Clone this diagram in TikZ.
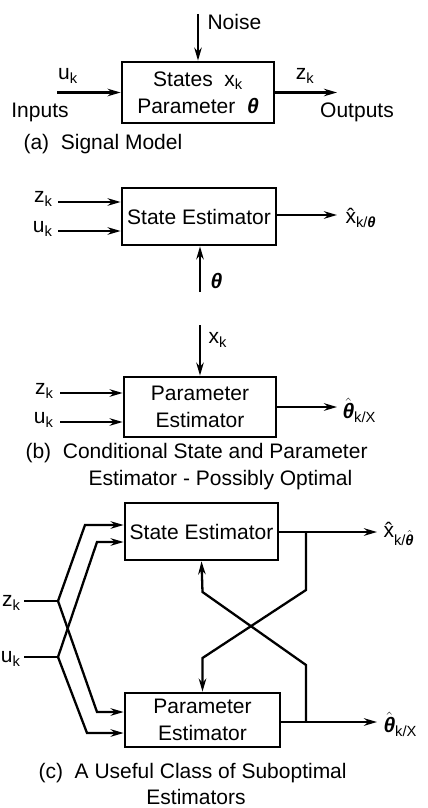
\documentclass[tikz,border=0pt]{standalone}
\usepackage{amsmath}
\usepackage{fontspec}
\setmainfont{Liberation Sans}
\usepackage{tikz}
\usetikzlibrary{arrows.meta, calc}

% subscripts and hats in the text font
\newcommand{\lowsub}[2]{#1$_{\text{#2}}$}
\newcommand{\thb}{\textbf{\textit{θ}}}
\newcommand{\thbhat}{$\hat{\text{\thb}}$}

\begin{document}
\begin{tikzpicture}[x=1pt, y=-1pt, font=\fontsize{21}{27}\selectfont,
    blk/.style={draw, line width=2.8pt, align=center, inner sep=0pt},
    sig/.style={line width=2.3pt, -{Stealth[length=13pt,width=7.5pt]}},
    wire/.style={line width=2.3pt}]

    \useasboundingbox (0,0) rectangle (428,808);

    % (a) signal model
    \node[blk, minimum width=152pt, minimum height=61pt] (model) at (198,92.5)
        {States\ \ \lowsub{x}{k}\\Parameter\ \ \thb};
    \coordinate (noisetop) at (198,14);
    \coordinate (uin) at (57,92.5);
    \coordinate (zout) at (337,92.5);
    \draw[sig] (noisetop) -- (model.north);
    \draw[sig] (uin) -- (model.west);
    \draw[sig] (model.east) -- (zout);
    \node[anchor=west] (noise) at (204,22) {Noise};
    \node (ua) at (68,76) {\lowsub{u}{k}};
    \node (inputs) at (40,112) {Inputs};
    \node (za) at (305,76) {\lowsub{z}{k}};
    \node (outputs) at (357,112) {Outputs};
    \node[anchor=west] (capa) at (20,144) {(a)\ \ Signal Model};

    % (b) conditional estimators
    \node[blk, minimum width=154pt, minimum height=57pt] (se1) at (199,216.5) {State Estimator};
    \coordinate (zin1) at (58,202);
    \coordinate (uin1) at (58,231);
    \coordinate (thin) at (200,292);
    \coordinate (xout1) at (337,215);
    \draw[sig] (zin1) -- (zin1 -| se1.west);
    \draw[sig] (uin1) -- (uin1 -| se1.west);
    \draw[sig] (thin) -- (thin |- se1.south);
    \draw[sig] (xout1 -| se1.east) -- (xout1);
    \node[anchor=east] (zb1) at (56,199) {\lowsub{z}{k}};
    \node[anchor=east] (ub1) at (56,229) {\lowsub{u}{k}};
    \node[anchor=west] (thb1) at (207,281) {\thb};
    \node[anchor=west] (xhb1) at (342,218) {x̂$_{\text{k/\thb}}$};

    \node[blk, minimum width=152pt, minimum height=60pt] (pe1) at (200,407) {Parameter\\Estimator};
    \coordinate (xkin) at (200,325);
    \coordinate (zin2) at (60,393);
    \coordinate (uin2) at (60,422);
    \coordinate (thout1) at (337,407);
    \draw[sig] (xkin) -- (pe1.north);
    \draw[sig] (zin2) -- (zin2 -| pe1.west);
    \draw[sig] (uin2) -- (uin2 -| pe1.west);
    \draw[sig] (pe1.east) -- (thout1);
    \node[anchor=west] (xkb) at (205,340) {\lowsub{x}{k}};
    \node[anchor=east] (zb2) at (57,391) {\lowsub{z}{k}};
    \node[anchor=east] (ub2) at (57,420) {\lowsub{u}{k}};
    \node[anchor=west] (thb2) at (339,410) {\thbhat$_{\text{k/X}}$};
    \node[anchor=west] (capb) at (22,453) {(b)\ \ Conditional State and Parameter};
    \node[anchor=west] (capb2) at (85,480) {Estimator - Possibly Optimal};

    % (c) suboptimal class
    \node[blk, minimum width=153pt, minimum height=57pt] (se2) at (201.5,531.5) {State Estimator};
    \node[blk, minimum width=155pt, minimum height=54pt] (pe2) at (202.5,720) {Parameter\\Estimator};
    \node[anchor=east] (zc) at (24,603) {\lowsub{z}{k}};
    \node[anchor=east] (uc) at (24,659) {\lowsub{u}{k}};
    \coordinate (zj) at (58,601);
    \coordinate (uj) at (58,657);
    \draw[wire] (zc.east |- zj) -- (zj);
    \draw[wire] (uc.east |- uj) -- (uj);
    \draw[sig] (zj) -- (85,525) -- (se2.west |- 0,525);
    \draw[sig] (uj) -- (97,542) -- (se2.west |- 0,542);
    \draw[sig] (zj) -- (97,712) -- (pe2.west |- 0,712);
    \draw[sig] (uj) -- (87,733) -- (pe2.west |- 0,733);

    \coordinate (xout2) at (377,532);
    \coordinate (thout2) at (377,722);
    \coordinate (br1) at (306,532);
    \coordinate (br2) at (306,722);
    \draw[sig] (xout2 -| se2.east) -- (xout2);
    \draw[sig] (thout2 -| pe2.east) -- (thout2);
    \draw[sig] (br1) -- (306,590) -- (202.5,658) -- (pe2.north);
    \draw[sig] (br2) -- (306,665) -- (202.5,592) -- (se2.south);
    \node[anchor=west] (xhc) at (380,534) {x̂$_{\text{k/\thbhat}}$};
    \node[anchor=west] (thc) at (380,724) {\thbhat$_{\text{k/X}}$};
    \node[anchor=west] (capc) at (35,773) {(c)\ \ A Useful Class of Suboptimal};
    \node[anchor=base, inner sep=0pt] (capc2) at (196,804) {Estimators};

\end{tikzpicture}
\end{document}
